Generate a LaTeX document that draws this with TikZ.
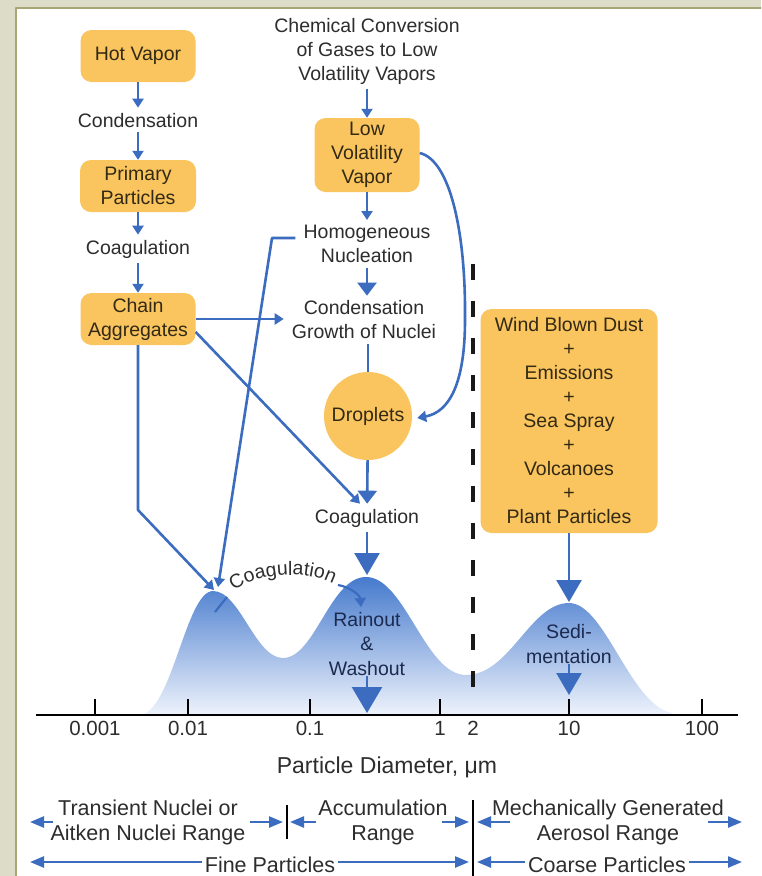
\documentclass[tikz,border=0pt]{standalone}
\usepackage{fontspec}
\setmainfont{Liberation Sans}
\usetikzlibrary{arrows.meta,decorations.text}
\definecolor{bgc}{RGB}{220,220,200}
\definecolor{frm}{RGB}{168,166,118}
\definecolor{boxor}{RGB}{250,196,94}
\definecolor{ablue}{RGB}{60,108,192}
\definecolor{txt}{RGB}{45,45,45}
\definecolor{btxt}{RGB}{50,42,20}
\definecolor{navy}{RGB}{28,42,80}
\definecolor{shtop}{RGB}{70,122,205}
\definecolor{shmid}{RGB}{118,160,224}
\definecolor{shbot}{RGB}{238,243,252}
\newcommand\fsz[2]{\fontsize{#1}{#2}\selectfont}
\tikzset{
  box/.style={fill=boxor, rounded corners=11pt, text=btxt, align=center, font=\fsz{19.5}{24}, inner sep=0pt},
  lbl/.style={text=txt, align=center, font=\fsz{19.5}{24}, inner xsep=2pt, inner ysep=5pt},
  arr/.style={draw=ablue, line width=2.6pt, -{Triangle[length=9pt,width=11pt]}},
  marr/.style={draw=ablue, line width=2.6pt, -{Triangle[length=13pt,width=19pt]}},
  barr/.style={draw=ablue, line width=2.6pt, -{Triangle[length=22pt,width=25pt]}},
  bline/.style={draw=ablue, line width=2.6pt},
  rarr/.style={draw=ablue, line width=2.4pt, -{Triangle[length=14pt,width=11pt]}},
  axtick/.style={draw=black, line width=2.6pt},
  rlbl/.style={text=txt, align=center, font=\fsz{21.5}{25}, inner xsep=2pt, inner ysep=0pt},
  ticklbl/.style={text=txt, font=\fsz{20.5}{24}, anchor=base, inner sep=0pt},
}
\begin{document}
\begin{tikzpicture}[x=1pt,y=-1pt,line join=round]
\useasboundingbox (0,0) rectangle (761,876);
\clip (0,0) rectangle (761,876);
\fill[bgc] (0,0) rectangle (761,876);
\fill[white] (16,8) rectangle (790,900);
\draw[frm, line width=2.5pt] (790,8) -- (16,8) -- (16,900);

% distribution curve
\shade[top color=shtop, middle color=shmid, bottom color=shbot]
  (140,715) .. controls (172,712) and (186,591) .. (213,591)
  .. controls (240,591) and (255,658) .. (283,658)
  .. controls (315,658) and (330,577) .. (366,577)
  .. controls (405,577) and (425,675) .. (466,675)
  .. controls (510,675) and (530,603) .. (569,603)
  .. controls (605,603) and (630,705) .. (672,713)
  -- (672,715) -- cycle;

% axis
\coordinate (axL) at (36,715);
\coordinate (axR) at (738,715);
\draw[axtick] (axL) -- (axR);
\foreach \x/\t [count=\i] in {95/0.001,188/0.01,310/0.1,440/1,569/10,702/100}{
  \draw[axtick] (\x,699) -- (\x,715);
}
\foreach \x/\t [count=\i] in {95/0.001,188/0.01,310/0.1,440/1,473/2,569/10,702/100}{
  \node[ticklbl] (tl\i) at (\x,735) {\t};
}
\node[text=txt, font=\fsz{23}{26}, anchor=base, inner sep=0pt] (xlab) at (387,773) {Particle Diameter, μm};

% dashed boundary
\coordinate (dsT) at (473,264);
\coordinate (dsB) at (473,695);
\draw[black!90, line width=3.5pt, dash pattern=on 16pt off 21pt] (dsT) -- (dsB);

% left column
\node[box, minimum width=115pt, minimum height=52pt] (hv) at (138,56) {Hot Vapor};
\node[lbl, anchor=base] (cond1) at (138,127) {Condensation};
\node[box, minimum width=116pt, minimum height=52pt] (pp) at (138,186) {Primary\\Particles};
\node[lbl, anchor=base] (coag1) at (138,254) {Coagulation};
\node[box, minimum width=115pt, minimum height=52pt] (chain) at (138,319) {Chain\\Aggregates};

% middle column
\node[lbl] (chem) at (367,51) {Chemical Conversion\\of Gases to Low\\Volatility Vapors};
\node[box, minimum width=105pt, minimum height=74pt] (lvv) at (367,155) {Low\\Volatility\\Vapor};
\node[lbl] (homog) at (367,244) {Homogeneous\\Nucleation};
\node[lbl] (cgrowth) at (364,320) {Condensation\\Growth of Nuclei};
\node[circle, fill=boxor, minimum size=88pt, inner sep=0pt, text=btxt, font=\fsz{19.5}{24}] (drop) at (368,416) {Droplets};
\node[lbl, anchor=base] (coag2) at (367,523) {Coagulation};

% right box
\node[box, minimum width=177pt, minimum height=224pt] (wind) at (569,421) {Wind Blown Dust\\+\\Emissions\\+\\Sea Spray\\+\\Volcanoes\\+\\Plant Particles};

% labels on curve
\node[text=navy, align=center, font=\fsz{19.5}{24.5}, inner sep=0pt] (rain) at (367,644) {Rainout\\\&\\Washout};
\node[text=navy, align=center, font=\fsz{19.5}{25}, inner sep=0pt] (sedi) at (569,644) {Sedi-\\mentation};

% peak targets
\coordinate (p1a) at (214,590);
\coordinate (p1b) at (218,587);
\coordinate (pk2) at (367,575);
\coordinate (pk3) at (569,602);
\coordinate (ax2) at (367,713);
\coordinate (ax3) at (569,695);

% left column arrows
\draw[arr] (hv) -- (cond1);
\draw[arr] (cond1) -- (pp);
\draw[arr] (pp) -- (coag1);
\draw[arr] (coag1) -- (chain);

% middle column arrows
\draw[arr] (chem) -- (lvv);
\draw[arr] (lvv) -- (homog);
\draw[marr] (homog.south) -- (homog.south |- cgrowth.north);
\draw[bline] (cgrowth.south -| drop.north) -- (drop.north);
\draw[marr] (drop) -- (coag2);
\draw[barr] (coag2.south) -- (pk2);

% cross connectors
\draw[arr] (chain.east) -- ([xshift=-6pt]cgrowth.west |- chain.east);
\draw[arr] ([yshift=-13pt]chain.east) -- ([xshift=-7pt]coag2.north);
\coordinate (bend1) at (138,510);
\draw[arr] (chain.south) -- (bend1) -- (p1a);
\coordinate (hk) at (272,238);
\draw[arr] ([xshift=-6pt,yshift=6pt]homog.west) -- (hk) -- (p1b);
\draw[arr] ([yshift=2pt]lvv.east) .. controls (450,160) and (466,232) .. (465,320)
   .. controls (465,382) and (450,412) .. ([xshift=5pt,yshift=-2pt]drop.east);

% big arrows to the curve
\draw[barr] (wind.south) -- (pk3);
\draw[barr, -{Triangle[length=26pt,width=30pt]}] (rain.south) -- (ax2);
\draw[barr] (sedi.south) -- (ax3);

% coagulation along the curve
\coordinate (cs) at (215,612);
\coordinate (ce) at (227,597);
\draw[bline, line width=2.2pt] (cs) -- (ce);
\path[decorate, decoration={text along path, text align=center,
   text={|\fsz{19.5}{20}\color{txt}|Coagulation}}]
   (226,598) .. controls (250,570) and (318,568) .. (342,590);
\coordinate (ca) at (338,585);
\coordinate (cb) at (361,607);
\draw[arr, line width=2.2pt] (ca) .. controls (350,587) and (360,595) .. (cb);

% range labels
\node[rlbl] (r1) at (148,822) {Transient Nuclei or\\Aitken Nuclei Range};
\node[rlbl] (r2) at (383,822) {Accumulation\\Range};
\node[rlbl] (r3) at (608,822) {Mechanically Generated\\Aerosol Range};
\node[text=txt, font=\fsz{21.5}{25}, anchor=base, inner xsep=3pt, inner ysep=0pt] (fine) at (270,872) {Fine Particles};
\node[text=txt, font=\fsz{21.5}{25}, anchor=base, inner xsep=3pt, inner ysep=0pt] (coarse) at (607,872) {Coarse Particles};

\coordinate (tk1) at (287,822);
\coordinate (tk1t) at (287,805);
\coordinate (tk1b) at (287,839);
\coordinate (tk2) at (473,822);
\coordinate (tk2t) at (473,800);
\coordinate (tk2b) at (473,880);
\draw[black, line width=2.6pt] (tk1t) -- (tk1b);
\draw[black, line width=2.6pt] (tk2t) -- (tk2b);

\coordinate (e1) at (30,822);
\coordinate (e2) at (742,822);
\coordinate (f1) at (30,862);
\coordinate (f2) at (742,862);

\draw[rarr] ([xshift=5pt]r1.west |- e1) -- (e1);
\draw[rarr] ([xshift=2pt]r1.east |- e1) -- ([xshift=-4pt]tk1);
\draw[rarr] ([xshift=0pt]r2.west |- e1) -- ([xshift=3pt]tk1);
\draw[rarr] ([xshift=-8pt]r2.east |- e1) -- ([xshift=-4pt]tk2);
\draw[rarr] ([xshift=20pt]r3.west |- e1) -- ([xshift=4pt]tk2);
\draw[rarr] ([xshift=-18pt]r3.east |- e1) -- (e2);

\draw[rarr] (fine.west |- f1) -- (f1);
\draw[rarr] (fine.east |- f1) -- ([xshift=-4pt]tk2 |- f1);
\draw[rarr] (coarse.west |- f1) -- ([xshift=4pt]tk2 |- f1);
\draw[rarr] (coarse.east |- f1) -- (f2);
\end{tikzpicture}
\end{document}
